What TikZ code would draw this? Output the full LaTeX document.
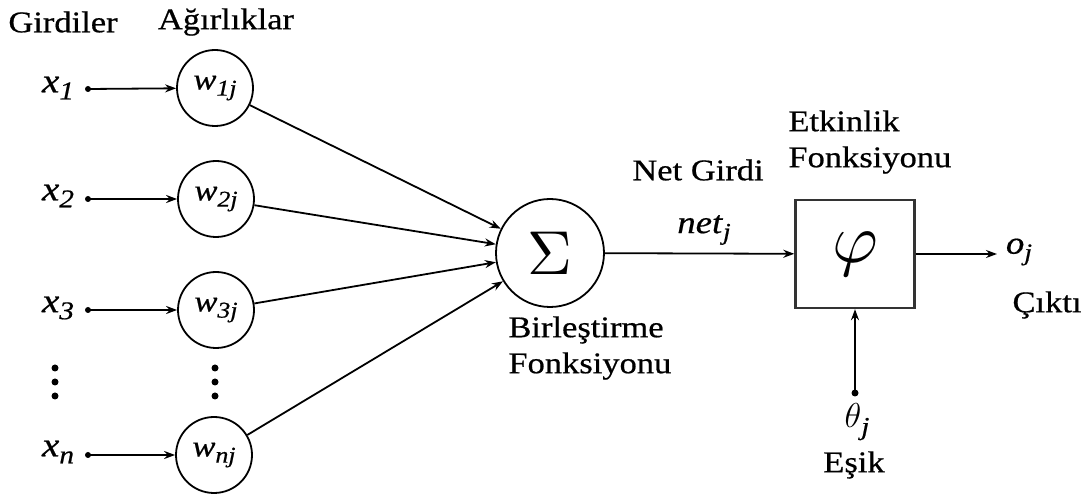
\documentclass[tikz,border=0pt]{standalone}
\usepackage{fontspec}
\setmainfont{Liberation Serif}[FakeStretch=1.15, FakeBold=0.6]
\usetikzlibrary{arrows.meta}
\newcommand\vv[2]{\textit{#1}\raisebox{-0.45ex}{\scalebox{0.75}{\textit{#2}}}}
\begin{document}
\begin{tikzpicture}[x=0.5pt,y=-0.5pt,
  txt/.style={font=\fontsize{15}{18}\selectfont, inner sep=0pt},
  xlab/.style={font=\fontsize{17}{20}\selectfont, inner sep=0pt},
  wc/.style={draw, line width=0.9pt, circle, minimum size=38pt, inner sep=0pt, font=\fontsize{15}{18}\selectfont},
  dotn/.style={circle, fill, inner sep=0pt, minimum size=3pt},
  arr/.style={line width=0.9pt, -{Stealth[length=5.5pt,width=4pt]}},
  ln/.style={line width=0.8pt}]
\useasboundingbox (0,0) rectangle (1083,497);
% headers
\node[txt] (hg) at (63,22) {Girdiler};
\node[txt] (ha) at (226,22) {Ağırlıklar};
% inputs
\node[xlab] (x1) at (58,88) {\vv{x}{1}};
\node[xlab] (x2) at (58,196) {\vv{x}{2}};
\node[xlab] (x3) at (58,308) {\vv{x}{3}};
\node[xlab] (xn) at (58,452) {\vv{x}{n}};
\node[dotn] (d1) at (88,89) {};
\node[dotn] (d2) at (88,199) {};
\node[dotn] (d3) at (88,310) {};
\node[dotn] (dn) at (88,455) {};
% weights
\node[wc] (w1) at (215,88) {\vv{w}{1j}};
\node[wc] (w2) at (216,199) {\vv{w}{2j}};
\node[wc] (w3) at (216,310) {\vv{w}{3j}};
\node[wc] (wn) at (214,455) {\vv{w}{nj}};
% vertical dots
\foreach \yy/\nm in {368/a,382/b,396/c}{
  \node[dotn, minimum size=3.5pt] (ld\nm) at (55,\yy) {};
  \node[dotn, minimum size=3.5pt] (rd\nm) at (215,\yy) {};
}
\draw[arr] (d1.center) -- (w1);
\draw[arr] (d2.center) -- (w2);
\draw[arr] (d3.center) -- (w3);
\draw[arr] (dn.center) -- (wn);
% sum
\node[draw, line width=0.9pt, circle, minimum width=54pt, inner sep=0pt] (sum) at (550,253) {\scalebox{3.1}{$\Sigma$}};
\draw[arr] (w1) -- (sum);
\draw[arr] (w2) -- (sum);
\draw[arr] (w3) -- (sum);
\draw[arr] (wn) -- (sum);
\node[txt, align=left, anchor=north west] (bf) at (508,316) {Birleştirme\\Fonksiyonu};
% net input
\node[txt] (ng) at (698,170) {Net Girdi};
\node[xlab, font=\fontsize{16}{18}\selectfont] (nj) at (704,230) {\vv{net}{j}};
% activation box
\node[draw, line width=1.2pt, draw=black!80, minimum width=59.5pt, minimum height=54pt, inner sep=0pt] (box) at (855,254) {\scalebox{3.5}{$\varphi$}};
\draw[arr] (sum) -- (box);
\node[txt, align=left, anchor=north west] (ef) at (788,110) {Etkinlik\\Fonksiyonu};
% output
\coordinate (oend) at (997,254);
\draw[arr] (box) -- (oend);
\node[xlab, font=\fontsize{16}{18}\selectfont] (oj) at (1019,252) {\vv{o}{j}};
\node[txt] (ck) at (1047,305) {Çıktı};
% threshold
\node[dotn, minimum size=3.5pt] (th) at (855,393) {};
\draw[arr] (th.center) -- (box);
\node[xlab] (tj) at (857,422) {$\theta$\raisebox{-0.45ex}{\scalebox{0.75}{\textit{j}}}};
\node[txt] (es) at (854,465) {Eşik};
\end{tikzpicture}
\end{document}
